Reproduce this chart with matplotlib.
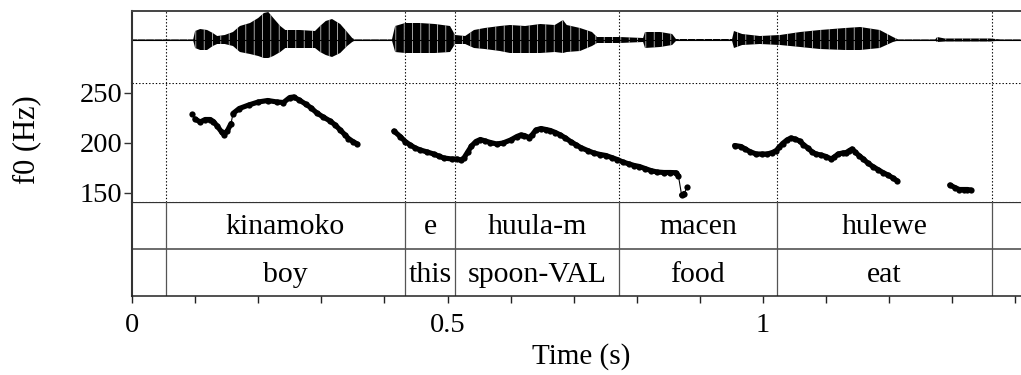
import numpy as np
import matplotlib
matplotlib.use("Agg")
import matplotlib.pyplot as plt

plt.rcParams["font.family"] = ["Liberation Serif", "DejaVu Serif"]
plt.rcParams["hatch.linewidth"] = 0.45

# ---------------------------------------------------------------- data
# interval boundaries (s) shared by both annotation tiers
boundaries = [0.0534, 0.4326, 0.5119, 0.7718, 1.0217, 1.3634]
words = ["kinamoko", "e", "huula-m", "macen", "hulewe"]
glosses = ["boy", "this", "spoon-VAL", "food", "eat"]

# f0 track (Hz), one list per voiced stretch; *_thin = links drawn as thin jumps
f0_t_1 = [0.095, 0.100, 0.108, 0.116, 0.124, 0.129, 0.135, 0.142, 0.146, 0.151,
          0.157, 0.160, 0.170, 0.185, 0.200, 0.215, 0.230, 0.240, 0.250, 0.256,
          0.265, 0.275, 0.283, 0.293, 0.303, 0.314, 0.322, 0.330, 0.337, 0.343,
          0.350, 0.357]
f0_hz_1 = [229, 224, 221, 223.5, 223.5, 221.5, 217, 211, 208.5, 212,
           219.5, 229.5, 234.5, 238, 241, 242.5, 241, 240.5, 245.5, 246,
           243, 239, 235.5, 230, 226, 222, 218, 213, 208.5, 204.5,
           201.5, 199]
f0_thin_1 = [0, 10]

f0_t_2 = [0.415, 0.425, 0.433, 0.441, 0.449, 0.457, 0.468, 0.478, 0.486, 0.494,
          0.507, 0.515, 0.521, 0.526, 0.532, 0.538, 0.545, 0.552, 0.560, 0.568,
          0.578, 0.588, 0.600, 0.610, 0.616, 0.622, 0.629, 0.634, 0.640, 0.648,
          0.656, 0.663, 0.671, 0.679, 0.687, 0.695, 0.703, 0.711, 0.722, 0.732,
          0.742, 0.751, 0.760, 0.769, 0.778, 0.788, 0.796, 0.804, 0.813, 0.822,
          0.832, 0.843, 0.853, 0.862, 0.866, 0.871, 0.875, 0.880]
f0_hz_2 = [212, 206.5, 201.5, 198, 195, 193, 191, 189, 187, 185,
           184, 184, 183, 185, 191, 197, 201.5, 203.5, 202, 200.5,
           199, 200, 203, 206.5, 208, 207.5, 205.5, 208, 213, 214.5,
           213.5, 212.5, 210.5, 208, 205, 201.5, 198.5, 195.5, 192.5, 190,
           188.5, 187.5, 185.5, 183.5, 181, 179, 177.5, 176.5, 174.5, 172.5,
           171, 170.5, 170.5, 170.3, 167, 148, 149.5, 156]
f0_thin_2 = [54, 56]

f0_t_3 = [0.955, 0.965, 0.972, 0.979, 0.989, 0.998, 1.007, 1.015, 1.021, 1.026,
          1.031, 1.038, 1.044, 1.051, 1.058, 1.064, 1.071, 1.078, 1.084, 1.092,
          1.100, 1.108, 1.113, 1.119, 1.126, 1.132, 1.137, 1.141, 1.146, 1.152,
          1.159, 1.166, 1.174, 1.182, 1.190, 1.198, 1.206, 1.213]
f0_hz_3 = [197.5, 196.5, 194, 191.5, 189, 189, 189, 190.5, 192.5, 196,
           199.5, 203, 205, 204, 202, 198.5, 195, 191, 189, 188,
           186.5, 184, 186, 189, 190, 190.5, 192.5, 194, 191, 187.5,
           184, 180, 176.5, 173.5, 170.5, 168, 165, 162]
f0_thin_3 = []

f0_t_4 = [1.296, 1.304, 1.311, 1.318, 1.324, 1.329]
f0_hz_4 = [158, 155.5, 153.5, 153.5, 153.5, 153]
f0_thin_4 = []

# waveform amplitude envelope (upper / lower extent, arbitrary units)
wave_t = [0.000, 0.097, 0.100, 0.108, 0.119, 0.128, 0.135, 0.147, 0.160, 0.171,
          0.187, 0.200, 0.209, 0.216, 0.224, 0.235, 0.243, 0.266, 0.290, 0.298,
          0.307, 0.317, 0.330, 0.341, 0.349, 0.353, 0.412, 0.417, 0.433, 0.456,
          0.480, 0.504, 0.512, 0.528, 0.542, 0.559, 0.583, 0.599, 0.623, 0.647,
          0.670, 0.683, 0.689, 0.710, 0.729, 0.737, 0.773, 0.810, 0.813, 0.837,
          0.856, 0.862, 0.951, 0.954, 0.967, 0.995, 1.027, 1.059, 1.090, 1.130,
          1.154, 1.185, 1.206, 1.214, 1.273, 1.276, 1.288, 1.360, 1.376, 1.425]
wave_hi = [0.6, 0.6, 9, 11, 10, 7, 4, 5, 8, 14,
           17, 22, 27, 28, 22, 14, 10, 10, 9, 14,
           19, 21, 16, 8, 2, 0.6, 0.6, 14, 17, 17,
           16, 14, 5, 4, 10, 12, 14, 15, 14, 16,
           15, 20, 15, 12, 8, 3, 3, 2, 8, 8,
           6, 1, 1, 9, 6, 4, 5, 8, 10, 12,
           13, 10, 3, 0.6, 0.6, 3, 1.5, 1.5, 0.6, 0.6]
wave_lo = [-0.6, -0.6, -8, -10, -10, -6, -4, -4, -6, -12,
           -14, -16, -18, -18, -16, -12, -8, -8, -8, -12,
           -15, -17, -13, -6, -2, -0.6, -0.6, -12, -13, -13,
           -13, -12, -4, -4, -8, -9, -11, -13, -13, -13,
           -12, -13, -12, -11, -6, -3, -3, -2, -8, -7,
           -5, -1, -1, -8, -5, -4, -5, -7, -9, -10,
           -10, -8, -2, -0.6, -0.6, -2, -1.5, -1.5, -0.6, -0.6]

# ---------------------------------------------------------------- layout
W, H = 1021, 375
X0, PX_PER_S = 132, 631.0
T_MAX = 1.425
X1 = X0 + T_MAX * PX_PER_S

fig = plt.figure(figsize=(W / 100, H / 100), dpi=100)


def band(top, bottom):
    return [X0 / W, 1 - bottom / H, (X1 - X0) / W, (bottom - top) / H]


ax_w = fig.add_axes(band(11, 83))
ax_p = fig.add_axes(band(83, 202))
ax_t = fig.add_axes(band(202, 296))

dot = dict(color="black", lw=0.8, linestyle=(0, (1.2, 1.8)))
FS = 20.5
FS_TIER = 21.5

for ax in (ax_w, ax_p, ax_t):
    ax.set_xlim(0, T_MAX)
    for s in ("top", "right", "bottom"):
        ax.spines[s].set_visible(False)
    ax.spines["left"].set_color("#333333")
    ax.spines["left"].set_linewidth(1.5)
    ax.patch.set_visible(False)

# --- waveform
ax_w.set_ylim(-43, 29)
ax_w.spines["top"].set_visible(True)
ax_w.spines["top"].set_color("#444444")
ax_w.spines["top"].set_linewidth(1.4)
ax_w.set_xticks([])
ax_w.set_yticks([])
ax_w.plot([0, T_MAX], [0, 0], color="black", lw=0.8)
ax_w.fill_between(wave_t, wave_lo, wave_hi, facecolor="black", edgecolor="white",
                  hatch="||", linewidth=0)
for b in boundaries:
    ax_w.axvline(b, **dot)

# --- pitch
ax_p.set_ylim(141, 260)
ax_p.set_xticks([])
ax_p.set_yticks([150, 200, 250])
ax_p.tick_params(axis="y", direction="out", length=6, width=1.0, pad=1,
                 labelsize=FS, color="#333333")
for b in boundaries:
    ax_p.axvline(b, **dot)
ax_p.axhline(260, **dot)
ax_p.axhline(141, **dot)


def draw_f0(t, f, thin_after):
    t = np.asarray(t)
    f = np.asarray(f)
    ax_p.plot(t, f, color="black", lw=0.8)
    cuts = [0] + [i + 1 for i in thin_after] + [len(t)]
    for a, b in zip(cuts[:-1], cuts[1:]):
        ax_p.plot(t[a:b], f[a:b], color="black", lw=3.7,
                  solid_capstyle="round", solid_joinstyle="round")
    ax_p.plot(t, f, "o", color="black", ms=4.5, mew=0)


draw_f0(f0_t_1, f0_hz_1, f0_thin_1)
draw_f0(f0_t_2, f0_hz_2, f0_thin_2)
draw_f0(f0_t_3, f0_hz_3, f0_thin_3)
draw_f0(f0_t_4, f0_hz_4, f0_thin_4)

ax_p.set_ylabel("f0 (Hz)", fontsize=22)
ax_p.yaxis.set_label_coords((27 - X0) / (X1 - X0), (202 - 140) / 119)
ax_p.yaxis.label.set_va("center")

# --- annotation tiers
ax_t.set_ylim(0, 2)
ax_t.set_yticks([])
ax_t.spines["bottom"].set_visible(True)
ax_t.spines["bottom"].set_color("#222222")
ax_t.spines["bottom"].set_linewidth(1.1)
ax_t.axhline(2, color="#333333", lw=0.9)
ax_t.axhline(1, color="#444444", lw=1.1)
for b in boundaries:
    ax_t.axvline(b, color="#555555", lw=0.9)

edges = list(boundaries)
for i, (w, g) in enumerate(zip(words, glosses)):
    mid = 0.5 * (edges[i] + edges[i + 1])
    ax_t.text(mid, (296 - 233.5) / 47, w, ha="center", va="baseline", fontsize=FS_TIER)
    ax_t.text(mid, (296 - 282) / 47, g, ha="center", va="baseline", fontsize=FS_TIER)

ax_t.set_xticks([0, 0.5, 1])
ax_t.set_xticklabels(["0", "0.5", "1"])
ax_t.set_xticks(np.arange(0, 1.45, 0.1), minor=True)
ax_t.tick_params(axis="x", which="both", direction="out", length=5, width=1.0,
                 color="#222222")
ax_t.tick_params(axis="x", which="major", pad=7.5, labelsize=FS)
ax_t.set_xlabel("Time (s)", fontsize=21)
ax_t.xaxis.set_label_coords(0.5, (296 - 357) / 94)
ax_t.xaxis.label.set_va("center")

fig.savefig("out.png", dpi=100)
